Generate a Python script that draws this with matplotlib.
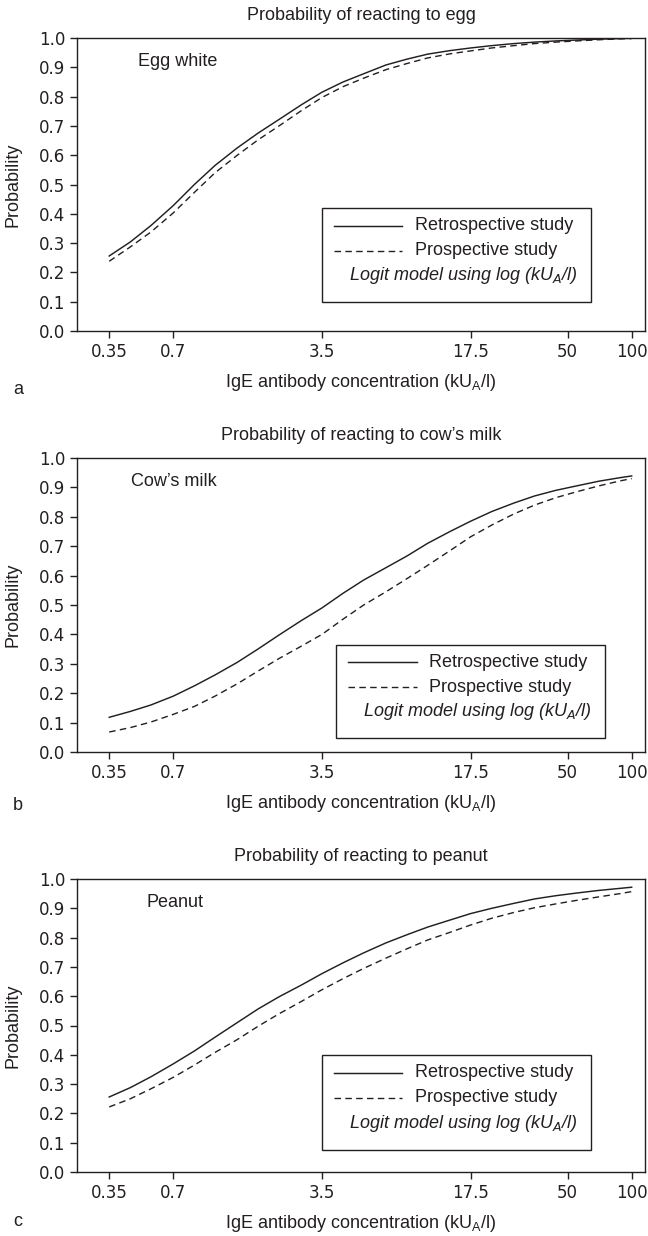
import matplotlib
matplotlib.use("Agg")
import matplotlib.pyplot as plt
from matplotlib.patches import Rectangle

# ---------------- data ----------------
x_ticks = [0.35, 0.7, 3.5, 17.5, 50, 100]
x_tick_labels = ["0.35", "0.7", "3.5", "17.5", "50", "100"]
y_ticks = [0.0, 0.1, 0.2, 0.3, 0.4, 0.5, 0.6, 0.7, 0.8, 0.9, 1.0]

# IgE concentration (kU_A/l) at which the curves were read
conc = [0.35, 0.44, 0.55, 0.7, 0.88, 1.1, 1.4, 1.75, 2.2, 2.8, 3.5, 4.4, 5.5,
        7, 8.8, 11, 14, 17.5, 22, 28, 35, 44, 55, 70, 88, 100]

egg_retro = [0.256, 0.304, 0.36, 0.428, 0.50, 0.565, 0.625, 0.675, 0.722, 0.772,
             0.815, 0.85, 0.878, 0.908, 0.928, 0.945, 0.957, 0.966, 0.974, 0.981,
             0.986, 0.99, 0.993, 0.996, 0.998, 0.999]
egg_prosp = [0.238, 0.287, 0.338, 0.403, 0.473, 0.54, 0.60, 0.652, 0.70, 0.752,
             0.797, 0.834, 0.863, 0.892, 0.913, 0.932, 0.946, 0.956, 0.966, 0.974,
             0.981, 0.986, 0.99, 0.994, 0.997, 0.998]

milk_retro = [0.118, 0.138, 0.160, 0.19, 0.225, 0.262, 0.305, 0.35, 0.398, 0.447,
              0.49, 0.54, 0.585, 0.627, 0.667, 0.71, 0.75, 0.785, 0.818, 0.847,
              0.871, 0.89, 0.905, 0.921, 0.933, 0.939]
milk_prosp = [0.068, 0.083, 0.102, 0.128, 0.155, 0.19, 0.232, 0.275, 0.318, 0.36,
              0.40, 0.452, 0.50, 0.545, 0.59, 0.635, 0.685, 0.732, 0.772, 0.81,
              0.84, 0.865, 0.885, 0.905, 0.922, 0.93]

peanut_retro = [0.256, 0.288, 0.325, 0.369, 0.413, 0.46, 0.51, 0.556, 0.598, 0.638,
                0.677, 0.714, 0.748, 0.782, 0.81, 0.836, 0.86, 0.882, 0.90, 0.917,
                0.932, 0.943, 0.952, 0.961, 0.968, 0.972]
peanut_prosp = [0.222, 0.25, 0.284, 0.323, 0.365, 0.408, 0.452, 0.497, 0.54, 0.582,
                0.622, 0.66, 0.695, 0.73, 0.762, 0.792, 0.818, 0.843, 0.866, 0.886,
                0.902, 0.915, 0.927, 0.939, 0.95, 0.957]

titles = ["Probability of reacting to egg",
          "Probability of reacting to cow\u2019s milk",
          "Probability of reacting to peanut"]
inner_labels = ["Egg white", "Cow\u2019s milk", "Peanut"]
panel_letters = ["a", "b", "c"]
series_names = ["Retrospective study", "Prospective study"]
note_text = "Logit model using log (kU$_{A}$/l)"
x_label = "IgE antibody concentration (kU$_\\mathregular{A}$/l)"
y_label = "Probability"

panels = [
    (egg_retro, egg_prosp),
    (milk_retro, milk_prosp),
    (peanut_retro, peanut_prosp),
]

# ---------------- style / layout ----------------
INK = "#231f20"
plt.rcParams["font.family"] = ["DejaVu Sans"]
plt.rcParams["mathtext.fontset"] = "dejavusans"
COND = ["Liberation Sans", "DejaVu Sans"]
TXT = 13

W, H = 648, 1236
fig = plt.figure(figsize=(W / 100, H / 100), dpi=100)

axes_px = [(38, 331), (458, 752), (879, 1172)]   # (top, bottom) in pixels
letter_px = [389, 806, 1222]                       # panel letter centres
left_px, right_px = 77, 645
inner_pos = [(0.108, 0.92), (0.095, 0.92), (0.123, 0.92)]
legend_box = [(0.431, 0.099, 0.905, 0.42),
              (0.456, 0.048, 0.929, 0.365),
              (0.431, 0.076, 0.905, 0.40)]

for i, (retro, prosp) in enumerate(panels):
    top, bot = axes_px[i]
    ax = fig.add_axes([left_px / W, 1 - bot / H,
                       (right_px - left_px) / W, (bot - top) / H])
    ax.plot(conc, retro, color=INK, lw=1.05, solid_joinstyle="round")
    ax.plot(conc, prosp, color=INK, lw=1.0, dashes=(4.7, 3.1))
    ax.set_xscale("log")
    ax.set_xlim(0.247, 115.5)
    ax.set_ylim(0, 1)
    ax.set_xticks(x_ticks)
    ax.set_xticklabels(x_tick_labels)
    ax.minorticks_off()
    ax.set_yticks(y_ticks)
    ax.set_yticklabels([f"{v:.1f}" for v in y_ticks])
    ax.tick_params(direction="out", length=5, width=1, color=INK,
                   labelcolor=INK, labelsize=12, pad=3.5)
    for s in ax.spines.values():
        s.set_linewidth(1.0)
        s.set_color(INK)

    ax.set_title(titles[i], fontsize=TXT, color=INK, pad=13, family=COND)
    ax.set_xlabel(x_label, fontsize=TXT, color=INK, family=COND, labelpad=8)
    ax.set_ylabel(y_label, fontsize=TXT, color=INK, family=COND)
    ax.yaxis.set_label_coords(-0.098, 0.5)

    ax.text(inner_pos[i][0], inner_pos[i][1], inner_labels[i],
            transform=ax.transAxes, fontsize=TXT, color=INK, family=COND,
            ha="left", va="center")

    # legend box drawn by hand to match the reference
    x0, y0, x1, y1 = legend_box[i]
    ax.add_patch(Rectangle((x0, y0), x1 - x0, y1 - y0, transform=ax.transAxes,
                           fill=False, lw=1.0, ec=INK))
    bh = y1 - y0
    sx0 = x0 + 0.021
    sx1 = x0 + 0.142
    ty = [y1 - 0.19 * bh, y1 - 0.455 * bh, y1 - 0.72 * bh]
    ax.plot([sx0, sx1], [ty[0], ty[0]], transform=ax.transAxes, color=INK, lw=1.05)
    ax.plot([sx0, sx1], [ty[1], ty[1]], transform=ax.transAxes, color=INK, lw=1.0,
            dashes=(4.7, 3.1))
    ax.text(sx1 + 0.022, ty[0], series_names[0], transform=ax.transAxes,
            fontsize=TXT, color=INK, family=COND, va="center", ha="left")
    ax.text(sx1 + 0.022, ty[1], series_names[1], transform=ax.transAxes,
            fontsize=TXT, color=INK, family=COND, va="center", ha="left")
    ax.text(x1 - 0.024, ty[2], note_text, transform=ax.transAxes,
            fontsize=TXT, color=INK, family=COND, style="italic",
            va="center", ha="right")

    fig.text(13 / W, 1 - letter_px[i] / H, panel_letters[i], fontsize=TXT,
             color=INK, family=COND, ha="left", va="center")

fig.savefig("out.png", dpi=100)
